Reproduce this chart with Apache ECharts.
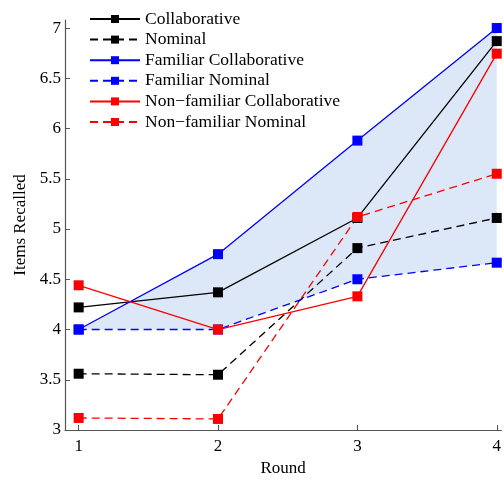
<!DOCTYPE html>
<html>
<head>
<meta charset="utf-8">
<script src="https://cdn.jsdelivr.net/npm/echarts@6/dist/echarts.min.js"></script>
<style>
  html, body { margin: 0; padding: 0; background: #fff; }
  #chart { width: 504px; height: 482px; }
</style>
</head>
<body>
<div id="chart"></div>
<script>
// Rounds on the x axis and tick labels
const rounds = [1, 2, 3, 4];
const yTicks = [3, 3.5, 4, 4.5, 5, 5.5, 6, 6.5, 7];

// Mean items recalled per round
const collaborative         = [4.22, 4.37, 5.11, 6.87];
const nominal               = [3.56, 3.55, 4.81, 5.11];
const familiarCollab        = [4.00, 4.75, 5.88, 7.00];
const familiarNominal       = [4.00, 4.00, 4.50, 4.665];
const nonFamiliarCollab     = [4.44, 4.00, 4.33, 6.745];
const nonFamiliarNominal    = [3.12, 3.11, 5.12, 5.55];

const FONT = '"Liberation Serif", "Times New Roman", serif';
const AXIS_COLOR = '#555';

function pairs(vals) {
  return rounds.map((r, i) => [r, vals[i]]);
}

function lineSeries(name, vals, color, dashed) {
  return {
    name: name,
    type: 'line',
    data: pairs(vals),
    symbol: 'rect',
    symbolSize: 10,
    itemStyle: { color: color },
    lineStyle: { color: color, width: 1.3, type: dashed ? [8, 5] : 'solid' },
    z: 3,
    animation: false
  };
}

// Shaded band between the familiar nominal and familiar collaborative curves
const band = {
  name: 'band',
  type: 'custom',
  data: rounds.map((r, i) => [r, familiarNominal[i], familiarCollab[i]]),
  encode: { x: 0, y: [1, 2] },
  silent: true,
  z: 1,
  animation: false,
  renderItem: function (params, api) {
    if (params.dataIndex !== 0) return;
    const upper = rounds.map((r, i) => api.coord([r, familiarCollab[i]]));
    const lower = rounds.map((r, i) => api.coord([r, familiarNominal[i]])).reverse();
    return {
      type: 'polygon',
      shape: { points: upper.concat(lower) },
      style: { fill: 'rgb(220,232,247)' }
    };
  }
};

const names = [
  'Collaborative', 'Nominal', 'Familiar Collaborative', 'Familiar Nominal',
  'Non\u2212familiar Collaborative', 'Non\u2212familiar Nominal'
];

const chart = echarts.init(document.getElementById('chart'), null, { renderer: 'canvas' });
chart.setOption({
  backgroundColor: '#fff',
  animation: false,
  textStyle: { fontFamily: FONT },
  grid: { left: 65, right: 0, top: 20, bottom: 47, containLabel: false },
  legend: {
    data: names,
    orient: 'vertical',
    left: 84,
    top: 5,
    itemWidth: 50,
    itemHeight: 10,
    itemGap: 2.6,
    textStyle: { fontFamily: FONT, fontSize: 17.5, color: '#000', lineHeight: 17 },
    selectedMode: false
  },
  xAxis: {
    type: 'value',
    min: 0.902,
    max: 4.033,
    name: 'Round',
    nameLocation: 'middle',
    nameGap: 30,
    nameTextStyle: { fontFamily: FONT, fontSize: 17, color: '#000' },
    axisLine: { show: true, lineStyle: { color: AXIS_COLOR, width: 1.2 } },
    axisTick: { show: true, inside: true, length: 5, customValues: rounds, lineStyle: { color: AXIS_COLOR } },
    axisLabel: { customValues: rounds, margin: 8, fontFamily: FONT, fontSize: 17, color: '#000' },
    splitLine: { show: false }
  },
  yAxis: {
    type: 'value',
    min: 3,
    max: 7.08,
    name: 'Items Recalled',
    nameLocation: 'middle',
    nameRotate: 90,
    nameGap: 35,
    nameTextStyle: { fontFamily: FONT, fontSize: 17, color: '#000' },
    axisLine: { show: true, lineStyle: { color: AXIS_COLOR, width: 1.2 } },
    axisTick: { show: true, inside: true, length: 5, customValues: yTicks, lineStyle: { color: AXIS_COLOR } },
    axisLabel: { customValues: yTicks, margin: 4, fontFamily: FONT, fontSize: 17, color: '#000' },
    splitLine: { show: false }
  },
  series: [
    band,
    lineSeries(names[0], collaborative, '#000000', false),
    lineSeries(names[1], nominal, '#000000', true),
    lineSeries(names[2], familiarCollab, '#0000ff', false),
    lineSeries(names[3], familiarNominal, '#0000ff', true),
    lineSeries(names[4], nonFamiliarCollab, '#ff0000', false),
    lineSeries(names[5], nonFamiliarNominal, '#ff0000', true)
  ]
});
</script>
</body>
</html>
